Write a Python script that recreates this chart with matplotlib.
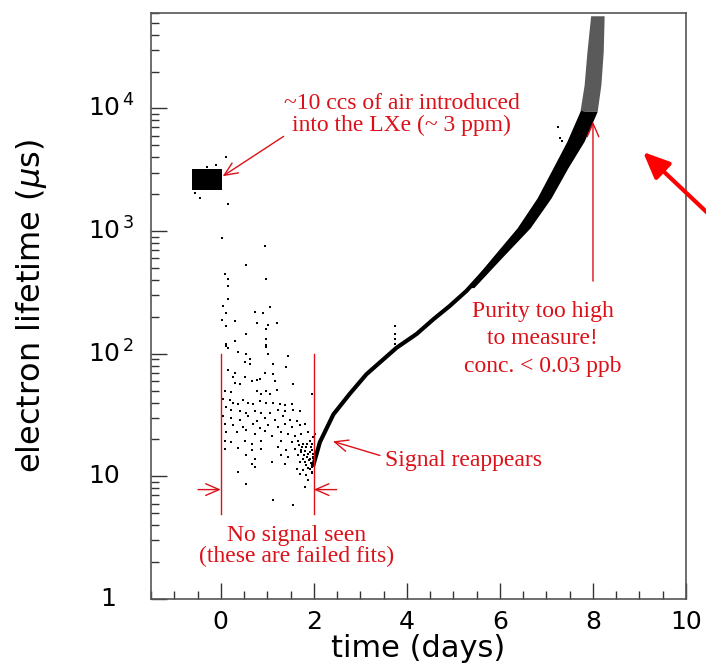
import numpy as np
import matplotlib.pyplot as plt
from matplotlib.ticker import MultipleLocator, LogLocator, NullFormatter
from matplotlib.transforms import blended_transform_factory

# -----------------------------
# Data
# -----------------------------
# dense block of good fits before the air was let in
block_x = [-0.62, 0.02]
block_lo = [2150, 2150]
block_hi = [3200, 3200]

stray_x = [-0.45, 0.16, 0.12, -0.55, -0.10, 0.00, -0.30]
stray_y = [1870, 1660, 3990, 2050, 3450, 2300, 3350]

# failed fits between day 0 and day 2
fail_x = [0.02, 0.95, 0.55, 0.09, 0.16, 0.98, 0.16, 0.16, 0.05, 1.05, 0.12, 0.73,
          0.90, 0.02, 0.30, 0.77, 1.20, 1.02, 0.12, 0.98, 0.55, 0.98, 0.30, 0.12,
          0.98, 0.16,
          0.12, 0.98, 0.37, 0.55, 0.62, 1.02, 1.45, 0.52, 0.62, 1.13, 1.41, 0.16,
          0.30, 0.27, 0.95, 1.13, 0.52, 0.66, 0.77, 0.84, 0.30, 0.41, 1.16, 1.56,
          0.09, 0.23, 0.98, 1.20, 1.05, 0.77, 0.87, 1.95, 0.05, 0.19, 0.27, 0.37,
          0.48, 0.59, 0.70, 0.84, 0.98, 1.13, 1.27, 1.38, 1.52, 0.12, 0.23, 0.41,
          0.55, 0.73, 0.87, 1.05, 1.23, 1.38, 1.56, 1.70, 0.05, 0.23, 0.41, 0.59,
          0.77, 0.95, 1.16, 1.34, 1.48, 1.63, 0.09, 0.27, 0.48, 0.70, 0.84, 1.02,
          1.23, 1.38, 1.52, 1.70, 1.81, 0.12, 0.34, 0.55, 0.73, 0.95, 1.09, 1.30,
          1.45, 1.59, 1.73, 1.88, 0.09, 0.23, 0.52, 0.66, 0.87, 1.30, 1.52, 1.66,
          1.77, 1.91, 0.09, 0.37, 0.66, 0.87, 1.23, 1.41, 1.59, 1.73, 1.84, 1.95,
          0.55, 0.73, 1.30, 1.45, 1.66, 1.77, 1.88, 1.99, 0.66, 1.09, 1.38, 1.70,
          1.84, 1.95, 0.73, 1.63, 1.77, 1.91, 0.37, 1.70, 1.84, 1.95, 1.88, 0.55,
          1.81, 1.13, 1.56, 1.99, 2.02, 1.95, 1.99, 1.91,
          1.75, 1.80, 1.85, 1.90, 1.93, 1.97, 1.86, 1.92, 1.78, 1.82, 1.88, 1.96,
          1.72, 1.94, 1.68, 1.98]
fail_y = [875, 760, 525, 445, 405, 408, 355, 280, 245, 241, 216, 219,
          213, 190, 186, 179, 179, 171, 168, 158, 146, 132, 127, 119,
          118, 112,
          116, 113, 103, 99, 90, 99, 96, 85, 82, 82, 78, 73,
          70, 64, 70, 68, 64, 60, 61, 62, 58, 57, 60, 57,
          50, 49, 50, 51, 47, 50, 47, 47, 43, 42, 40, 39,
          42, 40, 39, 41, 40, 40, 39, 38, 39, 37, 35, 34,
          33, 34, 33, 33, 35, 34, 35, 34, 31, 30, 29, 31,
          28.5, 30, 29, 31, 29, 28.5, 26.8, 26, 25.5, 26.8, 24.9, 26,
          25.5, 26.8, 25.2, 26, 26.8, 22.9, 22.9, 23.7, 22.2, 23.4, 21.5, 22.9,
          22.2, 21.5, 22.2, 22.9, 19.6, 19.0, 19.6, 18.4, 19.6, 19.6, 19.0, 19.6,
          18.4, 19.6, 16.8, 17.1, 16.3, 16.8, 17.3, 16.3, 16.8, 15.8, 17.3, 16.3,
          14.8, 13.9, 14.8, 14.4, 14.8, 13.9, 15.3, 14.4, 12.7, 13.1, 12.7, 13.1,
          12.3, 12.7, 11.9, 11.5, 11.2, 11.5, 10.8, 10.5, 10.2, 10.6, 9.3, 8.7,
          8.2, 6.4, 5.8, 20.9, 22.2, 18.4, 15.3, 13.9,
          17.5, 16.0, 14.5, 13.5, 12.8, 12.0, 18.5, 15.8, 15.0, 13.0, 11.8, 10.8,
          16.5, 17.5, 18.0, 14.0]

# recovery curve (centre line) after the signal comes back
curve_x = [1.98, 2.13, 2.42, 2.77, 3.13, 3.42, 3.78, 4.21, 4.57, 4.92, 5.28, 5.64,
           5.93, 6.50, 6.93, 7.29, 7.58, 7.79]
curve_y = [12, 19, 32, 47, 68, 85, 112, 145, 191, 245, 325, 458,
           607, 1064, 1866, 3273, 5400, 9460]

# the thicker, noisier part of the band (left / right edge at each level)
band_y = [346, 607, 1064, 1866, 3273, 5400, 9460]
band_xl = [5.30, 5.83, 6.37, 6.80, 7.14, 7.44, 7.72]
band_xr = [5.44, 6.04, 6.65, 7.10, 7.46, 7.81, 8.09]

# sparse spray at the top where purity is too high to measure
top_y = [9460, 15600, 29000, 57000]
top_xl = [7.72, 7.81, 7.87, 7.95]
top_xr = [8.09, 8.17, 8.22, 8.24]

outlier_x = [3.74, 3.74, 3.74, 3.74, 7.25, 7.29, 7.33, 7.03]
outlier_y = [169, 145, 132, 120, 7100, 5700, 5400, 1750]

RED = "#dc1018"

# -----------------------------
# Figure
# -----------------------------
fig = plt.figure(figsize=(7.06, 6.71), dpi=100)
ax = fig.add_axes([0.2139, 0.1073, 0.7578, 0.8733])
ax.set_yscale("log")
ax.set_xlim(-1.5, 10)
ax.set_ylim(1, 6e4)

ax.fill_between(block_x, block_lo, block_hi, color="black", lw=0)
ax.scatter(stray_x, stray_y, s=3, marker="s", color="black", lw=0)
ax.scatter(fail_x, fail_y, s=3, marker="s", color="black", lw=0)
ax.plot(curve_x, curve_y, color="black", lw=3.0, solid_capstyle="butt")
ax.fill_betweenx(band_y, band_xl, band_xr, color="black", lw=0)
ax.fill_betweenx(top_y, top_xl, top_xr, color="#5a5a5a", lw=0)
ax.scatter(outlier_x, outlier_y, s=3, marker="s", color="black", lw=0)

# axes style
for s in ax.spines.values():
    s.set_color("#555555")
    s.set_linewidth(1.2)
ax.tick_params(which="both", direction="in", top=False, right=False, color="#333333")
ax.tick_params(which="major", length=11.5, width=1.0)
ax.tick_params(which="minor", length=6, width=1.0)
ax.xaxis.set_major_locator(MultipleLocator(2))
ax.xaxis.set_minor_locator(MultipleLocator(0.5))
ax.yaxis.set_major_locator(LogLocator(base=10))
ax.yaxis.set_minor_locator(LogLocator(base=10, subs=np.arange(2, 10)))
ax.yaxis.set_major_formatter(NullFormatter())
ax.yaxis.set_minor_formatter(NullFormatter())
ax.tick_params(axis="x", labelsize=18, pad=8)

ytrans = blended_transform_factory(ax.transAxes, ax.transData)
ax.text(-0.066, 1, "1", transform=ytrans, ha="right", va="center", fontsize=18)
ax.text(-0.118, 10, "10", transform=ytrans, ha="left", va="center", fontsize=18)
for p in [2, 3, 4]:
    ax.text(-0.118, 10 ** p, r"$10^{\,%d}$" % p, transform=ytrans,
            ha="left", va="center", fontsize=18)

ax.set_xlabel("time (days)", fontsize=22, labelpad=0)
ax.set_ylabel(r"electron lifetime ($\mu$s)", fontsize=23, labelpad=70)

# -----------------------------
# Annotations
# -----------------------------
ser = "Liberation Serif"
thin = dict(arrowstyle="->,head_length=0.8,head_width=0.35", color=RED, lw=1.0,
            shrinkA=0, shrinkB=0, mutation_scale=12)

ax.text(3.89, 8940, "~10 ccs of air introduced\ninto the LXe (~ 3 ppm)", color=RED,
        family=ser, fontsize=17, ha="center", va="center", linespacing=1.1)
ax.annotate("", xy=(0.04, 2800), xytext=(1.35, 5920), arrowprops=thin)

ax.text(6.92, 132, "Purity too high\nto measure!\nconc. < 0.03 ppb", color=RED,
        family=ser, fontsize=17, ha="center", va="center", linespacing=1.4)
ax.annotate("", xy=(8.0, 7800), xytext=(8.0, 391), arrowprops=thin)

ax.text(3.53, 13.5, "Signal reappears", color=RED, family=ser, fontsize=17,
        ha="left", va="center")
ax.annotate("", xy=(2.41, 19.3), xytext=(3.42, 14.8), arrowprops=thin)

ax.text(1.63, 2.7, "No signal seen\n(these are failed fits)", color=RED, family=ser,
        fontsize=17, ha="center", va="center", linespacing=1.0)
ax.plot([0, 0], [4.9, 100], color=RED, lw=1.0)
ax.plot([2, 2], [4.9, 100], color=RED, lw=1.0)
ax.annotate("", xy=(0, 7.8), xytext=(-0.49, 7.8), arrowprops=thin)
ax.annotate("", xy=(2, 7.8), xytext=(2.49, 7.8), arrowprops=thin)

# big red pointer coming in from the right edge
ax.annotate("", xy=(0.9108, 0.7735), xycoords="figure fraction",
            xytext=(1.04, 0.645), textcoords="figure fraction",
            arrowprops=dict(arrowstyle="-|>,head_length=0.8,head_width=0.35",
                            color="#ff0000", lw=3.0, mutation_scale=20,
                            shrinkA=0, shrinkB=0),
            annotation_clip=False)

fig.savefig("out.png", dpi=100)
